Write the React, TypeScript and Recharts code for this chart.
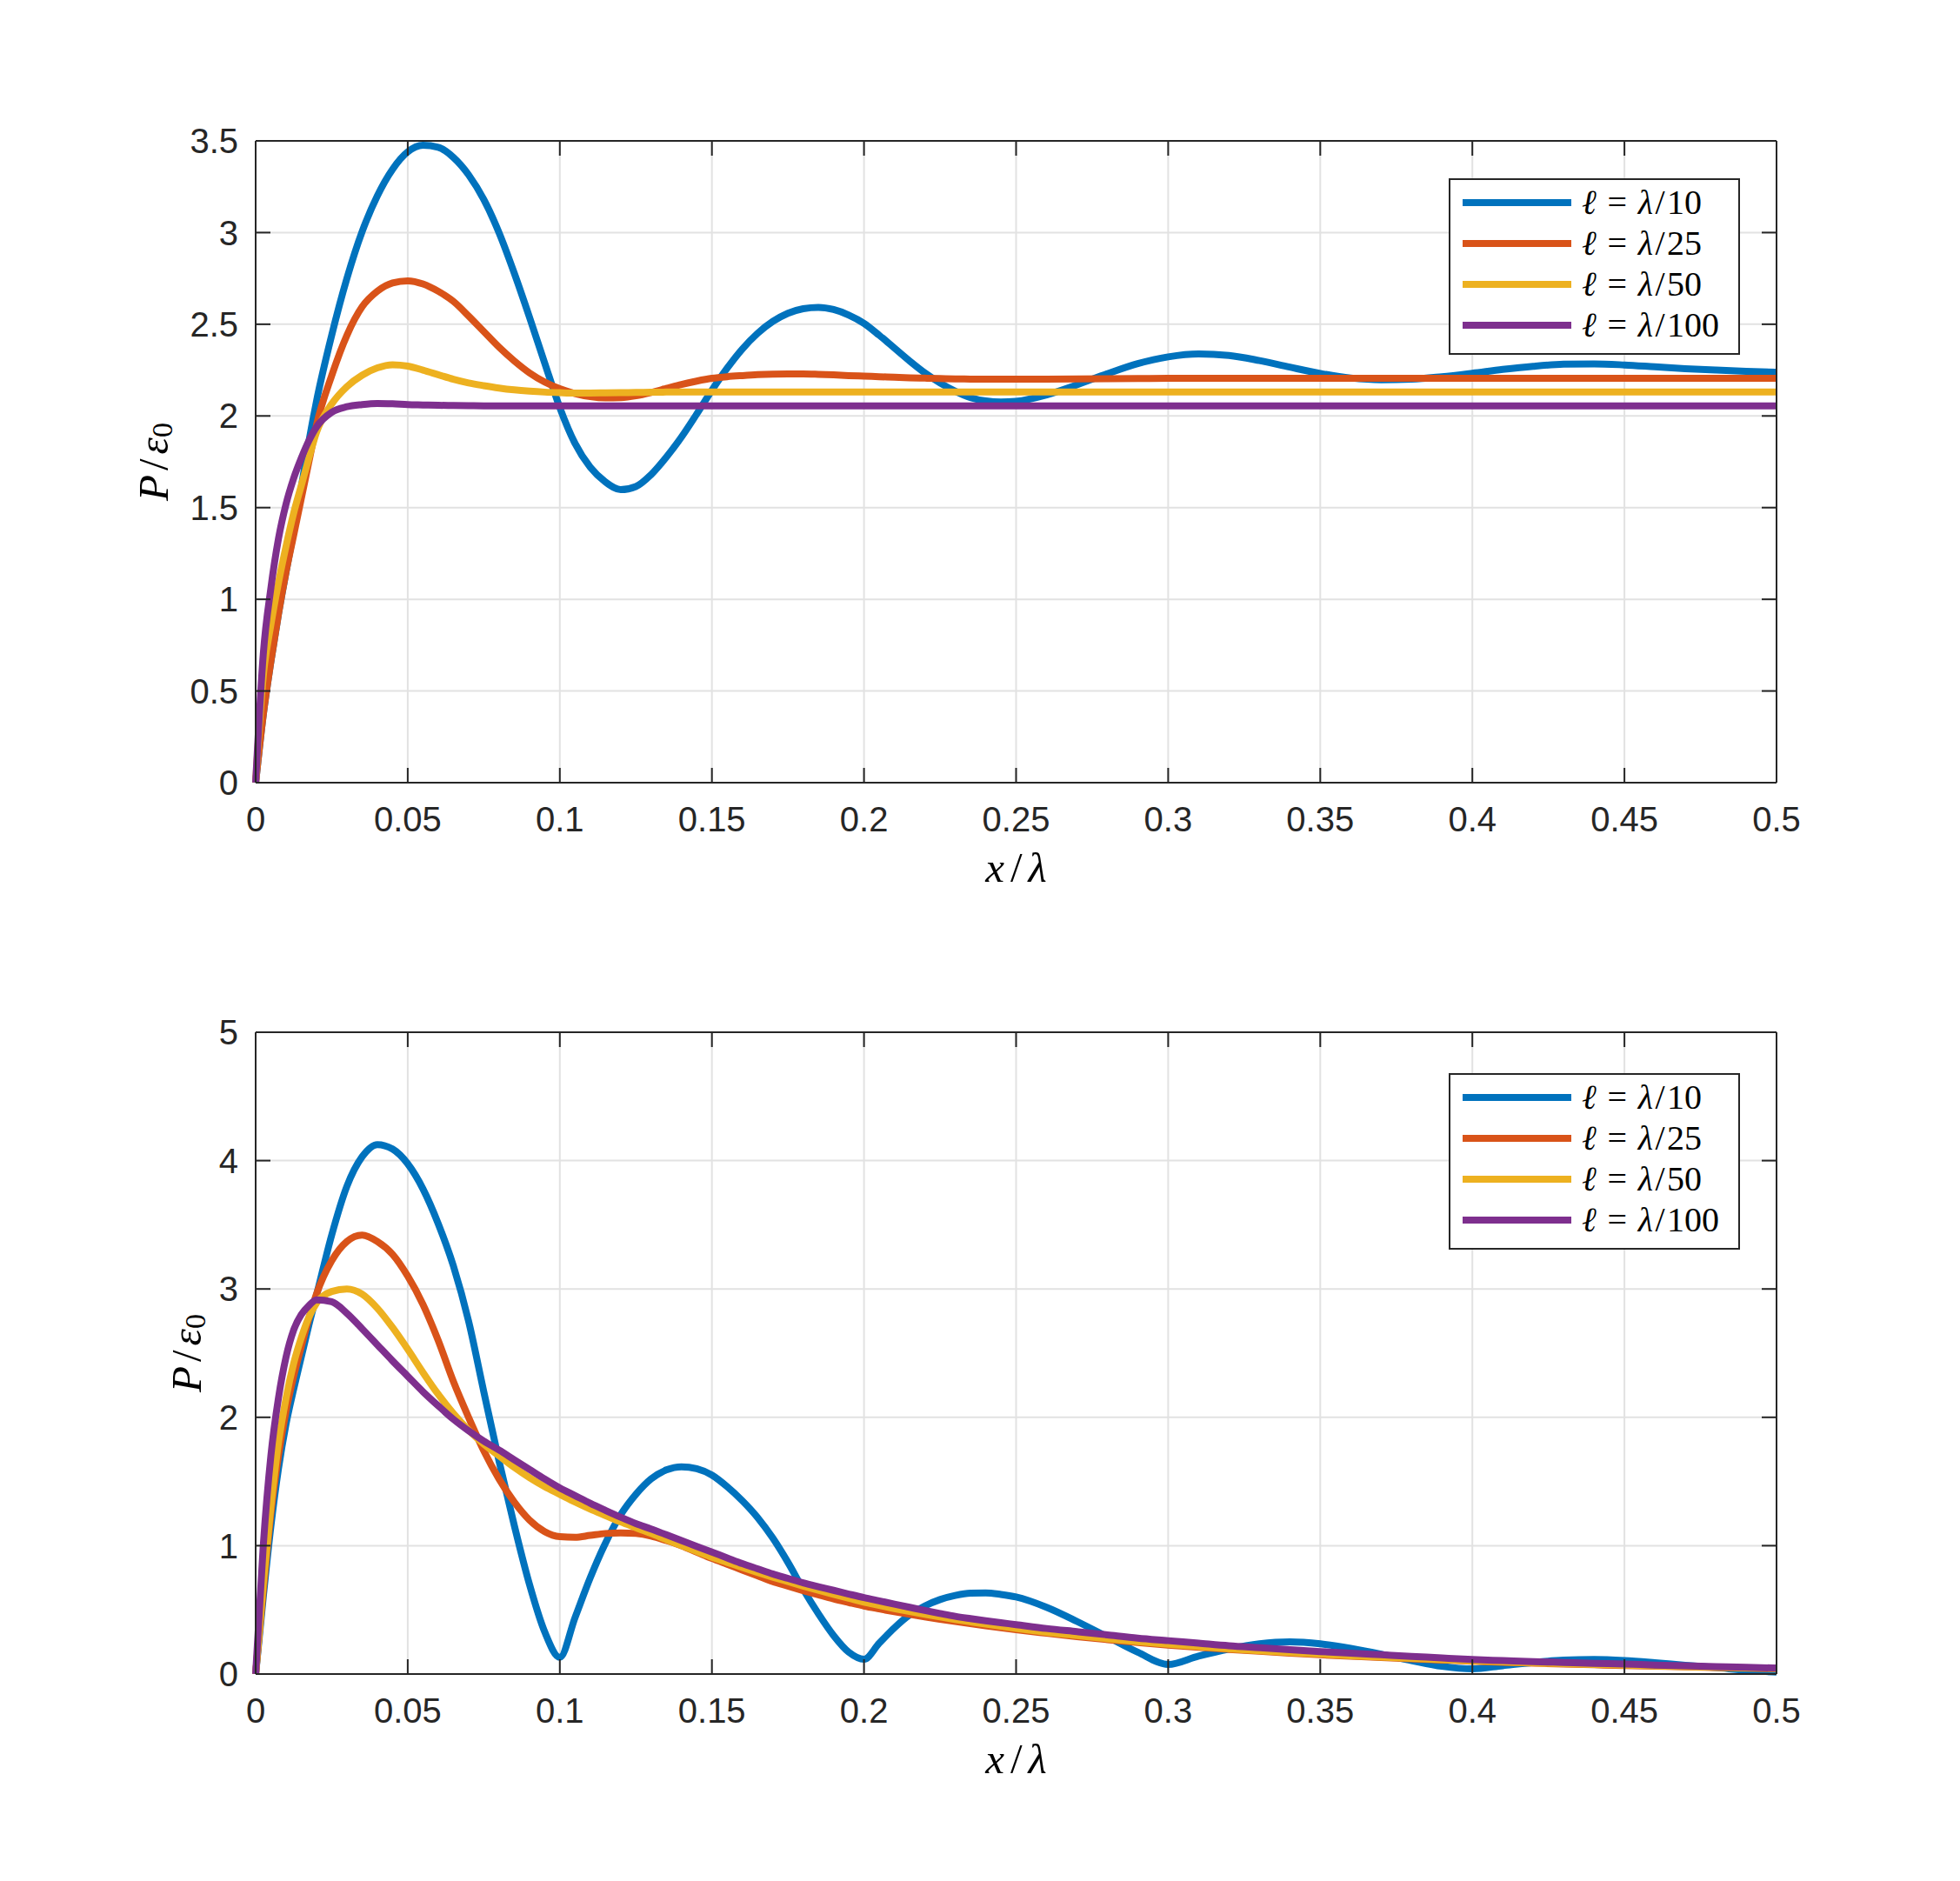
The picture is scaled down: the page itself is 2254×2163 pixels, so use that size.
import React from 'react';
import { LineChart, Line, XAxis, YAxis, CartesianGrid, Legend, Label } from 'recharts';

// x / lambda sample points (denser near the origin where the curves are steep)
const X_VALS = [
  0, 0.0025, 0.005, 0.0075, 0.01, 0.0125, 0.015, 0.0175, 0.02,
  0.025, 0.03, 0.035, 0.04, 0.045, 0.05, 0.055, 0.06, 0.065, 0.07, 0.075, 0.08, 0.085, 0.09, 0.095, 0.1,
  0.105, 0.11, 0.115, 0.12, 0.125, 0.13, 0.135, 0.14, 0.145, 0.15,
  0.155, 0.16, 0.165, 0.17, 0.175, 0.18, 0.185, 0.19, 0.195, 0.2,
  0.205, 0.21, 0.215, 0.22, 0.225, 0.23, 0.235, 0.24, 0.245, 0.25,
  0.26, 0.27, 0.28, 0.29, 0.3, 0.31, 0.32, 0.33, 0.34, 0.35,
  0.36, 0.37, 0.38, 0.39, 0.4, 0.41, 0.42, 0.43, 0.44, 0.45,
  0.46, 0.47, 0.48, 0.49, 0.5,
];

// upper panel
const TOP_L10 = [
  0, 0.37, 0.66, 0.92, 1.15, 1.37, 1.61, 1.86, 2.08,
  2.44, 2.75, 3.005, 3.2, 3.345, 3.44, 3.476, 3.465, 3.41, 3.315, 3.18, 3.0, 2.78, 2.54, 2.29, 2.045,
  1.85, 1.72, 1.64, 1.598, 1.615, 1.68, 1.775, 1.885, 2.01, 2.14,
  2.26, 2.365, 2.45, 2.515, 2.56, 2.585, 2.592, 2.58, 2.55, 2.505,
  2.44, 2.37, 2.3, 2.235, 2.18, 2.135, 2.1, 2.082, 2.076, 2.08,
  2.115, 2.17, 2.23, 2.285, 2.322, 2.338, 2.33, 2.302, 2.266, 2.232,
  2.207, 2.197, 2.2, 2.214, 2.233, 2.254, 2.271, 2.282, 2.284, 2.278,
  2.268, 2.258, 2.25, 2.243, 2.238,
];
const TOP_L25 = [
  0, 0.37, 0.66, 0.92, 1.15, 1.35, 1.55, 1.75, 1.95,
  2.22, 2.44, 2.595, 2.68, 2.725, 2.737, 2.72, 2.68, 2.625, 2.545, 2.46, 2.375, 2.3, 2.235, 2.185, 2.148,
  2.122, 2.105, 2.098, 2.1, 2.11, 2.128, 2.15, 2.172, 2.19, 2.205,
  2.214, 2.22, 2.225, 2.228, 2.229, 2.229, 2.227, 2.224, 2.22, 2.217,
  2.214, 2.211, 2.208, 2.206, 2.204, 2.202, 2.201, 2.2, 2.2, 2.2,
  2.201, 2.202, 2.203, 2.204, 2.205, 2.205, 2.205, 2.205, 2.205, 2.205,
  2.205, 2.205, 2.205, 2.205, 2.205, 2.205, 2.205, 2.205, 2.205, 2.205,
  2.205, 2.205, 2.205, 2.205, 2.205,
];
const TOP_L50 = [
  0, 0.58, 0.86, 1.09, 1.29, 1.47, 1.62, 1.77, 1.91,
  2.065, 2.16, 2.222, 2.262, 2.279, 2.272, 2.25, 2.225, 2.2, 2.18, 2.165, 2.152, 2.142, 2.135, 2.13, 2.127,
  2.125, 2.125, 2.126, 2.127, 2.128, 2.129, 2.13, 2.13, 2.13, 2.13,
  2.13, 2.13, 2.13, 2.13, 2.13, 2.13, 2.13, 2.13, 2.13, 2.13,
  2.13, 2.13, 2.13, 2.13, 2.13, 2.13, 2.13, 2.13, 2.13, 2.13,
  2.13, 2.13, 2.13, 2.13, 2.13, 2.13, 2.13, 2.13, 2.13, 2.13,
  2.13, 2.13, 2.13, 2.13, 2.13, 2.13, 2.13, 2.13, 2.13, 2.13,
  2.13, 2.13, 2.13, 2.13, 2.13,
];
const TOP_L100 = [
  0, 0.7, 1.06, 1.33, 1.52, 1.66, 1.77, 1.865, 1.94,
  2.02, 2.05, 2.062, 2.068, 2.066, 2.062, 2.06, 2.058, 2.057, 2.056, 2.055, 2.055, 2.055, 2.055, 2.055, 2.055,
  2.055, 2.055, 2.055, 2.055, 2.055, 2.055, 2.055, 2.055, 2.055, 2.055,
  2.055, 2.055, 2.055, 2.055, 2.055, 2.055, 2.055, 2.055, 2.055, 2.055,
  2.055, 2.055, 2.055, 2.055, 2.055, 2.055, 2.055, 2.055, 2.055, 2.055,
  2.055, 2.055, 2.055, 2.055, 2.055, 2.055, 2.055, 2.055, 2.055, 2.055,
  2.055, 2.055, 2.055, 2.055, 2.055, 2.055, 2.055, 2.055, 2.055, 2.055,
  2.055, 2.055, 2.055, 2.055, 2.055,
];

// lower panel
const BOT_L10 = [
  0, 0.6, 1.15, 1.6, 1.95, 2.22, 2.47, 2.72, 2.95,
  3.42, 3.8, 4.03, 4.125, 4.09, 3.975, 3.78, 3.51, 3.18, 2.75, 2.2, 1.66, 1.16, 0.7, 0.33, 0.13,
  0.44, 0.75, 1.02, 1.24, 1.4, 1.52, 1.59, 1.615, 1.6, 1.55,
  1.46, 1.35, 1.22, 1.06, 0.87, 0.66, 0.47, 0.3, 0.17, 0.115,
  0.24, 0.36, 0.46, 0.53, 0.58, 0.612, 0.63, 0.632, 0.62, 0.6,
  0.52, 0.41, 0.29, 0.17, 0.075, 0.14, 0.195, 0.235, 0.25, 0.235,
  0.2, 0.155, 0.105, 0.06, 0.04, 0.065, 0.09, 0.108, 0.113, 0.105,
  0.088, 0.068, 0.05, 0.03, 0.015,
];
const BOT_L25 = [
  0, 0.65, 1.25, 1.7, 2.05, 2.32, 2.55, 2.77, 2.96,
  3.22, 3.37, 3.42, 3.37, 3.27, 3.1, 2.88, 2.6, 2.28, 2.0, 1.74, 1.52, 1.34, 1.2, 1.11, 1.07,
  1.065, 1.08, 1.095, 1.1, 1.095, 1.075, 1.04, 1.0, 0.95, 0.9,
  0.855, 0.81, 0.765, 0.72, 0.685, 0.65, 0.617, 0.585, 0.557, 0.53,
  0.507, 0.485, 0.465, 0.445, 0.427, 0.41, 0.392, 0.375, 0.36, 0.345,
  0.318, 0.292, 0.268, 0.246, 0.226, 0.208, 0.192, 0.177, 0.163, 0.15,
  0.139, 0.128, 0.118, 0.109, 0.1, 0.092, 0.085, 0.078, 0.072, 0.066,
  0.061, 0.056, 0.051, 0.046, 0.042,
];
const BOT_L50 = [
  0, 0.7, 1.3, 1.8, 2.15, 2.42, 2.62, 2.78, 2.89,
  2.98, 3.0, 2.96, 2.85, 2.7, 2.53, 2.35, 2.18, 2.03, 1.9, 1.79, 1.7, 1.61, 1.53, 1.46, 1.4,
  1.34, 1.285, 1.235, 1.185, 1.14, 1.095, 1.047, 1.0, 0.955, 0.91,
  0.87, 0.83, 0.792, 0.755, 0.72, 0.685, 0.652, 0.62, 0.59, 0.56,
  0.535, 0.51, 0.487, 0.465, 0.445, 0.425, 0.407, 0.39, 0.372, 0.355,
  0.325, 0.3, 0.275, 0.252, 0.232, 0.214, 0.197, 0.182, 0.168, 0.155,
  0.143, 0.132, 0.122, 0.112, 0.103, 0.095, 0.088, 0.081, 0.075, 0.069,
  0.063, 0.058, 0.053, 0.048, 0.044,
];
const BOT_L100 = [
  0, 1.0, 1.7, 2.15, 2.47, 2.68, 2.8, 2.87, 2.915,
  2.9, 2.81, 2.69, 2.565, 2.44, 2.32, 2.2, 2.09, 1.985, 1.895, 1.815, 1.745, 1.67, 1.595, 1.52, 1.45,
  1.39, 1.33, 1.275, 1.222, 1.172, 1.13, 1.085, 1.04, 0.995, 0.95,
  0.905, 0.86, 0.82, 0.78, 0.745, 0.71, 0.68, 0.652, 0.623, 0.595,
  0.57, 0.545, 0.52, 0.495, 0.472, 0.45, 0.432, 0.415, 0.4, 0.385,
  0.355, 0.33, 0.305, 0.28, 0.26, 0.24, 0.22, 0.205, 0.19, 0.175,
  0.162, 0.15, 0.138, 0.125, 0.113, 0.105, 0.097, 0.09, 0.083, 0.078,
  0.07, 0.064, 0.058, 0.052, 0.047,
];

const X_TICKS = [0, 0.05, 0.1, 0.15, 0.2, 0.25, 0.3, 0.35, 0.4, 0.45, 0.5];
const TOP_Y_TICKS = [0, 0.5, 1, 1.5, 2, 2.5, 3, 3.5];
const BOT_Y_TICKS = [0, 1, 2, 3, 4, 5];

const SERIES_KEYS = ['l10', 'l25', 'l50', 'l100'];
const SERIES_NAMES = ['ℓ = λ/10', 'ℓ = λ/25', 'ℓ = λ/50', 'ℓ = λ/100'];
const COLORS = ['#0072BD', '#D95319', '#EDB120', '#7E2F8E'];

const INK = '#262626';
const SANS = '"Liberation Sans", Arial, Helvetica, sans-serif';
const SERIF = '"Liberation Serif", "DejaVu Serif", "Times New Roman", serif';

const buildRows = (a: number[], b: number[], c: number[], d: number[]) =>
  X_VALS.map((x, i) => ({ x, l10: a[i], l25: b[i], l50: c[i], l100: d[i] }));

const topData = buildRows(TOP_L10, TOP_L25, TOP_L50, TOP_L100);
const botData = buildRows(BOT_L10, BOT_L25, BOT_L50, BOT_L100);

const LegendBox = (props: any) => {
  // keep the plotting order, not the alphabetical one
  const items = [...(props.payload || [])].sort(
    (a: any, b: any) => SERIES_NAMES.indexOf(a.value) - SERIES_NAMES.indexOf(b.value)
  );
  return (
    <div
      style={{
        width: 335,
        height: 203,
        boxSizing: 'border-box',
        border: `2px solid ${INK}`,
        background: '#fff',
        paddingTop: 2,
      }}
    >
      {items.map((p: any) => {
        const denom = String(p.value).split('/')[1];
        return (
          <div key={p.value} style={{ height: 47, display: 'flex', alignItems: 'center' }}>
            <div style={{ marginLeft: 14, width: 125, height: 8, background: p.color }} />
            <div style={{ marginLeft: 12, fontFamily: SERIF, fontSize: 40, color: '#000', whiteSpace: 'nowrap', lineHeight: 1 }}>
              <i>ℓ</i>
              <span style={{ margin: '0 0.32em' }}>=</span>
              <i>λ</i>
              <span style={{ margin: '0 0.06em' }}>/</span>
              {denom}
            </div>
          </div>
        );
      })}
    </div>
  );
};

const yTitle = (gap: number) => (props: any) => {
  const vb = props.viewBox || { x: 94, y: 162, width: 200, height: 738 };
  const cx = vb.x + vb.width - gap;
  const cy = vb.y + vb.height / 2;
  return (
    <text
      x={cx}
      y={cy}
      transform={`rotate(-90 ${cx} ${cy})`}
      textAnchor="middle"
      dominantBaseline="central"
      fontFamily={SERIF}
      fontSize={49}
      fill="#000"
    >
      <tspan fontStyle="italic">P</tspan>
      <tspan dx={5}>/</tspan>
      <tspan dx={5} fontStyle="italic">ε</tspan>
      <tspan fontSize={34} dy={10}>0</tspan>
    </text>
  );
};

const xTitle = (props: any) => {
  const vb = props.viewBox || { x: 294, y: 900, width: 1749, height: 120 };
  const cx = vb.x + vb.width / 2;
  const cy = vb.y + 97;
  return (
    <text x={cx} y={cy} textAnchor="middle" dominantBaseline="central" fontFamily={SERIF} fontSize={49} fill="#000">
      <tspan fontStyle="italic">x</tspan>
      <tspan dx={7}>/</tspan>
      <tspan dx={7} fontStyle="italic">λ</tspan>
    </text>
  );
};

interface PanelProps {
  data: any[];
  yMax: number;
  yTicks: number[];
  margin: { top: number; right: number; bottom: number; left: number };
  yLabelGap: number;
  legendTop: number;
}

function Panel({ data, yMax, yTicks, margin, yLabelGap, legendTop }: PanelProps) {
  const axisStroke = { stroke: INK, strokeWidth: 2 };
  const tickStyle = { fill: INK, fontSize: 40, fontFamily: SANS };
  return (
    <LineChart width={2254} height={1081} data={data} margin={margin}>
      <CartesianGrid stroke="#e2e2e2" strokeWidth={2} />
      <XAxis
        dataKey="x"
        type="number"
        domain={[0, 0.5]}
        ticks={X_TICKS}
        interval={0}
        height={120}
        tickSize={-17}
        tickMargin={45}
        axisLine={axisStroke}
        tickLine={axisStroke}
        tick={tickStyle}
      >
        <Label content={xTitle} />
      </XAxis>
      {/* top and right axes only draw the frame and the inward ticks */}
      <XAxis
        xAxisId="top"
        dataKey="x"
        orientation="top"
        type="number"
        domain={[0, 0.5]}
        ticks={X_TICKS}
        interval={0}
        height={1}
        tickSize={-17}
        tickFormatter={() => ''}
        axisLine={axisStroke}
        tickLine={axisStroke}
      />
      <YAxis
        type="number"
        domain={[0, yMax]}
        ticks={yTicks}
        interval={0}
        width={200}
        tickSize={-17}
        tickMargin={37}
        axisLine={axisStroke}
        tickLine={axisStroke}
        tick={tickStyle}
      >
        <Label content={yTitle(yLabelGap)} />
      </YAxis>
      <YAxis
        yAxisId="right"
        orientation="right"
        type="number"
        domain={[0, yMax]}
        ticks={yTicks}
        interval={0}
        width={1}
        tickSize={-17}
        tickFormatter={() => ''}
        axisLine={axisStroke}
        tickLine={axisStroke}
      />
      <Legend
        layout="vertical"
        align="center"
        verticalAlign="middle"
        content={LegendBox}
        wrapperStyle={{ left: 1666, top: legendTop, width: 335, height: 203 }}
      />
      {SERIES_KEYS.map((k, i) => {
        // the last series is bound to the top/right axes so that the frame gets drawn
        const framed = i === SERIES_KEYS.length - 1;
        return (
          <Line
            key={k}
            dataKey={k}
            name={SERIES_NAMES[i]}
            xAxisId={framed ? 'top' : 0}
            yAxisId={framed ? 'right' : 0}
            type="monotone"
            stroke={COLORS[i]}
            strokeWidth={8}
            dot={false}
            activeDot={false}
            isAnimationActive={false}
          />
        );
      })}
    </LineChart>
  );
}

export default function App() {
  return (
    <div style={{ position: 'relative', width: 2254, height: 2163, background: '#fff', overflow: 'hidden' }}>
      <style>{'body{margin:0;background:#fff;}'}</style>
      <div style={{ position: 'absolute', left: 0, top: 0 }}>
        <Panel
          data={topData}
          yMax={3.5}
          yTicks={TOP_Y_TICKS}
          margin={{ top: 161, right: 210, bottom: 61, left: 94 }}
          yLabelGap={118}
          legendTop={205}
        />
      </div>
      <div style={{ position: 'absolute', left: 0, top: 1081 }}>
        <Panel
          data={botData}
          yMax={5}
          yTicks={BOT_Y_TICKS}
          margin={{ top: 105, right: 210, bottom: 117, left: 94 }}
          yLabelGap={80}
          legendTop={153}
        />
      </div>
    </div>
  );
}
